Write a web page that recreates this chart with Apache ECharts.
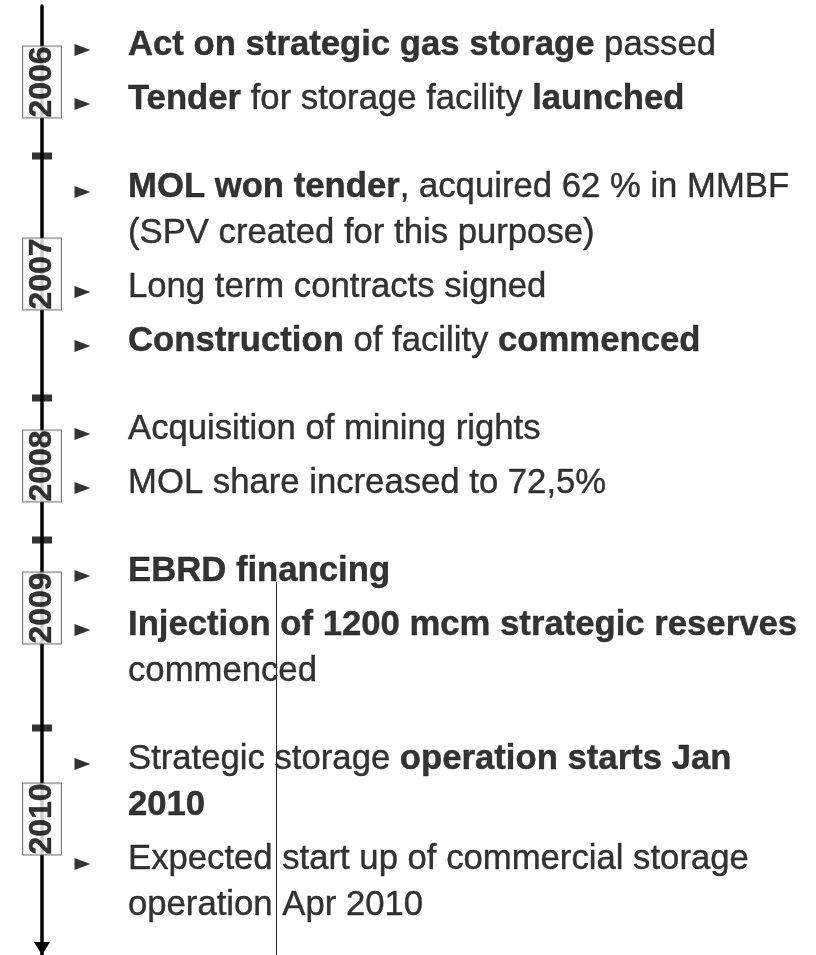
<!DOCTYPE html>
<html>
<head>
<meta charset="utf-8">
<script src="https://cdn.jsdelivr.net/npm/echarts@6/dist/echarts.min.js"></script>
<style>
  html, body { margin: 0; padding: 0; background: #fff; }
  #chart { width: 816px; height: 955px; }
</style>
</head>
<body>
<div id="chart"></div>
<script>
// ---------------- DATA ----------------
const years = ['2006', '2007', '2008', '2009', '2010'];

const events2006 = [
  '{b|Act on strategic gas storage} passed',
  '{b|Tender} for storage facility {b|launched}'
];
const events2007 = [
  '{b|MOL won tender}, acquired 62 % in MMBF\n(SPV created for this purpose)',
  'Long term contracts signed',
  '{b|Construction} of facility {b|commenced}'
];
const events2008 = [
  'Acquisition of mining rights',
  'MOL share increased to 72,5%'
];
const events2009 = [
  '{b|EBRD financing}',
  '{b|Injection of 1200 mcm strategic reserves}\ncommenced'
];
const events2010 = [
  'Strategic storage {b|operation starts Jan\n2010}',
  'Expected start up of commercial storage\noperation Apr 2010'
];
const eventsByYear = [events2006, events2007, events2008, events2009, events2010];

// ---------------- LAYOUT (layout units = px from top) ----------------
const L = {
  firstBaseline: 57,
  wrapStep: 46,
  itemStep: 54,
  sectionStep: 88,
  tickAfterLast: 45,
  bulletX: 40.5,
  textX: 86,
  font: '"Liberation Sans", Arial, Helvetica, sans-serif'
};

const eventPts = [], bulletPts = [], yearPts = [], tickPts = [];
let y = L.firstBaseline;
eventsByYear.forEach((items, si) => {
  if (si > 0) y += L.sectionStep;
  const firsts = [];
  items.forEach((t, ii) => {
    if (ii > 0) y += L.itemStep;
    firsts.push(y);
    eventPts.push({ value: [L.textX, y], text: t });
    bulletPts.push([L.bulletX, y - 7]);
    const nLines = t.split('\n').length;
    y += (nLines - 1) * L.wrapStep;
  });
  yearPts.push({ value: [0, (firsts[0] + firsts[firsts.length - 1]) / 2 - 2], year: years[si] });
  if (si < eventsByYear.length - 1) tickPts.push([0, y + L.tickAfterLast]);
});

const chart = echarts.init(document.getElementById('chart'), null, { renderer: 'canvas' });
chart.setOption({
  animation: false,
  backgroundColor: '#fff',
  grid: { left: 0, right: 0, top: 6, bottom: 0 },
  xAxis: { type: 'value', min: -42, max: 774, show: false },
  yAxis: {
    type: 'value', inverse: true, min: 6, max: 955,
    axisLine: {
      show: true, onZero: true,
      lineStyle: { color: '#000', width: 3.5 },
      symbol: ['triangle', 'none'], symbolSize: [16, 13], symbolOffset: [6.5, 0]
    },
    axisTick: { show: false }, axisLabel: { show: false }, splitLine: { show: false }
  },
  series: [
    {
      name: 'ticks', type: 'scatter', z: 3, silent: true,
      symbol: 'rect', symbolSize: [20, 7],
      itemStyle: { color: '#000' },
      data: tickPts
    },
    {
      name: 'years', type: 'scatter', z: 4, silent: true,
      symbolSize: 0,
      data: yearPts,
      label: {
        show: true, position: 'inside', rotate: 90,
        formatter: p => p.data.year,
        fontFamily: L.font, fontSize: 32, fontWeight: 'bold', color: '#000',
        textBorderColor: '#000', textBorderWidth: 0.4,
        align: 'center', verticalAlign: 'middle', lineHeight: 38,
        backgroundColor: '#fff', borderColor: '#5a5a5a', borderWidth: 1, padding: 0
      }
    },
    {
      name: 'bullets', type: 'scatter', z: 3, silent: true,
      symbol: 'path://M0,0L16,6L0,12Z', symbolSize: [16, 12],
      itemStyle: { color: '#000' },
      data: bulletPts
    },
    {
      name: 'events', type: 'scatter', z: 3, silent: true,
      symbolSize: 0,
      data: eventPts,
      label: {
        show: true, position: [0, 0], offset: [0, -35],
        align: 'left', verticalAlign: 'top',
        formatter: p => p.data.text,
        fontFamily: L.font, fontSize: 34.7, color: '#000', lineHeight: 46,
        textBorderColor: '#000', textBorderWidth: 0.4,
        rich: {
          b: { fontFamily: L.font, fontSize: 34.7, fontWeight: 'bold', color: '#000', lineHeight: 46,
               textBorderColor: '#000', textBorderWidth: 0.4 }
        }
      },
      markLine: {
        silent: true, symbol: 'none', label: { show: false },
        lineStyle: { color: '#222', width: 1, type: 'solid' },
        data: [[{ coord: [234, 582] }, { coord: [234, 955] }]]
      }
    }
  ]
});
</script>
</body>
</html>
